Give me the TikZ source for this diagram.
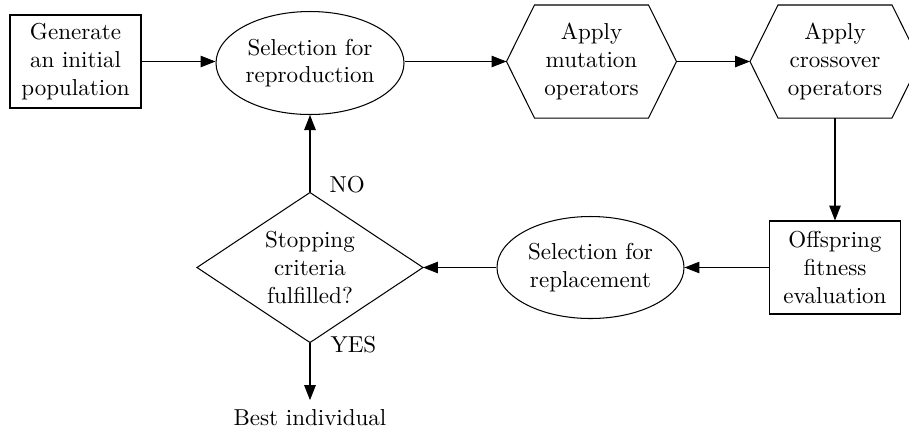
\documentclass[tikz,border=0pt]{standalone}
\usetikzlibrary{arrows.meta,shapes.geometric}
\def\pxu{0.434pt}
% hexagon with slanted left/right sides drawn around a plain frame node
\newcommand\drawhex[1]{%
  \draw ([xshift=28*\pxu]#1.north west) -- ([xshift=-28*\pxu]#1.north east)
     -- (#1.east) -- ([xshift=-28*\pxu]#1.south east)
     -- ([xshift=28*\pxu]#1.south west) -- (#1.west) -- cycle;}
\begin{document}
\begin{tikzpicture}[x=0.434pt,y=-0.434pt,line width=0.45pt,
  every node/.style={inner sep=0pt, align=center},
  procbox/.style={draw, rectangle, minimum width=131*\pxu, minimum height=93*\pxu},
  selell/.style={draw, ellipse, minimum width=188*\pxu, minimum height=103*\pxu},
  hexframe/.style={rectangle, minimum width=169*\pxu, minimum height=112*\pxu},
  diaframe/.style={rectangle, minimum width=225*\pxu, minimum height=149*\pxu},
  flow/.style={-{Triangle[length=6.5pt,width=5pt]}}]
\useasboundingbox (0,0) rectangle (909,430);
\clip (0,0) rectangle (909,430);

% nodes
\node[procbox] (gen) at (75.5,61.5) {Generate\\an initial\\population};
\node[selell] (selrep) at (310,63) {Selection for\\reproduction};
\node[hexframe] (mut) at (591.5,61.5) {Apply\\mutation\\operators};
\node[hexframe] (cross) at (835,61.5) {Apply\\crossover\\operators};
\node[procbox] (eval) at (835,267.5) {Offspring\\fitness\\evaluation};
\node[selell, minimum width=187*\pxu, minimum height=102*\pxu] (selrpl) at (590.5,267.5) {Selection for\\replacement};
\node[diaframe] (stop) at (310,267.5) {Stopping\\criteria\\fulfilled?};
\node (best) at (310,418) {Best individual};

\drawhex{mut}
\drawhex{cross}
\draw (stop.north) -- (stop.east) -- (stop.south) -- (stop.west) -- cycle;

% connectors
\draw[flow] (gen.east) -- (gen.east -| selrep.west);
\draw[flow] (selrep.east |- mut.west) -- (mut.west);
\draw[flow] (mut.east) -- (cross.west);
\draw[flow] (cross.south) -- (eval.north);
\draw[flow] (eval.west) -- (selrpl.east);
\draw[flow] (selrpl.west) -- (stop.east);
\draw[flow] (stop.north) -- (selrep.south);
\draw[flow] (stop.south) -- ([yshift=4pt]best.north);

% branch labels
\node[anchor=west] (no) at (329,185) {NO};
\node[anchor=west] (yes) at (330,345) {YES};
\end{tikzpicture}
\end{document}
